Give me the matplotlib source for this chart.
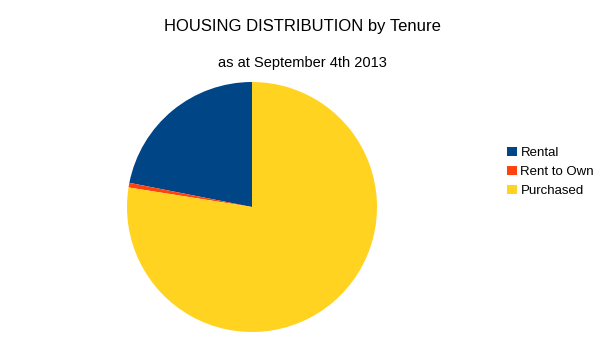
import matplotlib.pyplot as plt

plt.rcParams['font.family'] = ['Liberation Sans', 'DejaVu Sans']

labels = ['Rental', 'Rent to Own', 'Purchased']
shares = [21.9, 0.6, 77.5]
colors = ['#004586', '#ff420e', '#ffd320']

fig = plt.figure(figsize=(6.05, 3.4), dpi=100)
# pie centre ~ (252, 207) px, radius ~125 px
ax = fig.add_axes([(252 - 126) / 605, (340 - 207 - 126) / 340, 252 / 605, 252 / 340])
wedges, _ = ax.pie(shares, colors=colors, startangle=90, counterclock=True, radius=1.0,
                   wedgeprops=dict(linewidth=0))
ax.set_xlim(-1.008, 1.008)
ax.set_ylim(-1.008, 1.008)
ax.set_aspect('equal')

fig.text(302 / 605, 1 - 27 / 340, 'HOUSING DISTRIBUTION by Tenure', ha='center', va='center', fontsize=12)
fig.text(302 / 605, 1 - 63 / 340, 'as at September 4th 2013', ha='center', va='center', fontsize=10.5)

fig.legend(wedges, labels, loc='center left', bbox_to_anchor=(502 / 605, 1 - 172 / 340),
           frameon=False, fontsize=9.5, handlelength=0.7, handleheight=0.7,
           handletextpad=0.3, labelspacing=0.52, borderaxespad=0)

fig.savefig('out.png', dpi=100)
